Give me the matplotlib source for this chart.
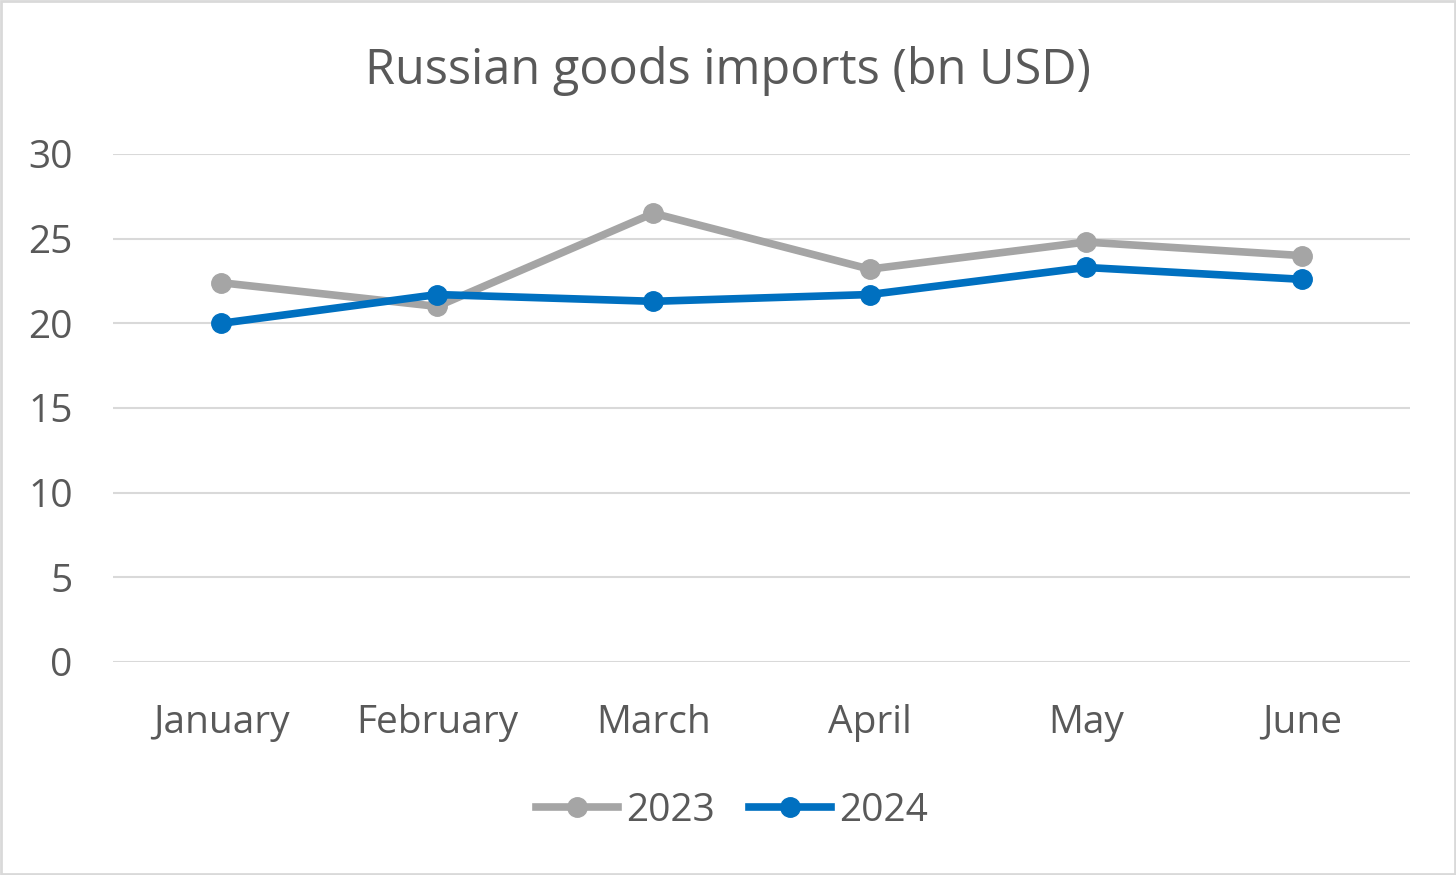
import matplotlib
matplotlib.use("Agg")
import matplotlib.pyplot as plt
from matplotlib.patches import Rectangle

months = ["January", "February", "March", "April", "May", "June"]
imports_2023 = [22.4, 21.0, 26.5, 23.2, 24.8, 24.0]
imports_2024 = [20.0, 21.7, 21.3, 21.7, 23.3, 22.6]
yticks = [0, 5, 10, 15, 20, 25, 30]

txt = "#595959"
plt.rcParams['font.family'] = ['Open Sans', 'DejaVu Sans']

fig = plt.figure(figsize=(14.56, 8.75), dpi=100)
ax = fig.add_axes([113/1456, 1-662/875, (1410-113)/1456, (662-154)/875])

x = range(len(months))
ax.plot(x, imports_2023, color="#A5A5A5", lw=5.5, marker="o", ms=14, label="2023", zorder=3)
ax.plot(x, imports_2024, color="#0070C0", lw=5.5, marker="o", ms=14, label="2024", zorder=4)

ax.set_xlim(-0.5, 5.5)
ax.set_ylim(0, 30)
ax.set_yticks(yticks)
ax.set_xticks(list(x))
ax.set_xticklabels(months)
ax.grid(axis="y", color="#D9D9D9", lw=1.5)
ax.set_axisbelow(True)
for s in ax.spines.values():
    s.set_visible(False)
ax.tick_params(axis="both", length=0, labelsize=28, colors=txt)
ax.tick_params(axis="x", pad=30)
ax.tick_params(axis="y", pad=29)

fig.text(0.5, 1-71/875, "Russian goods imports (bn USD)", ha="center", va="center",
         fontsize=35, color=txt)

fig.legend(loc="center", bbox_to_anchor=(732/1456, 1-811/875), ncol=2, frameon=False,
           fontsize=28, labelcolor=txt, handlelength=2.1, columnspacing=0.9, handletextpad=0.2)

fig.patches.append(Rectangle((0.001, 0.001), 0.998, 0.998, transform=fig.transFigure,
                             fill=False, edgecolor="#D9D9D9", lw=2))

fig.savefig("out.png", dpi=100)
